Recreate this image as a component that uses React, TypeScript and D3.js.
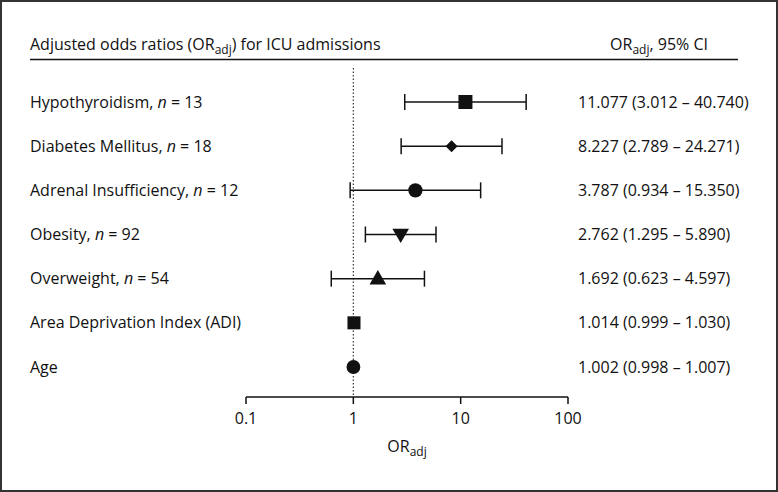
import React from "react";
import * as d3 from "d3";

const labels = [
  { name: "Hypothyroidism", n: "13" },
  { name: "Diabetes Mellitus", n: "18" },
  { name: "Adrenal Insufficiency", n: "12" },
  { name: "Obesity", n: "92" },
  { name: "Overweight", n: "54" },
  { name: "Area Deprivation Index (ADI)", n: null },
  { name: "Age", n: null },
];
const orValues = [11.077, 8.227, 3.787, 2.762, 1.692, 1.014, 1.002];
const ciLower = [3.012, 2.789, 0.934, 1.295, 0.623, 0.999, 0.998];
const ciUpper = [40.74, 24.271, 15.35, 5.89, 4.597, 1.03, 1.007];
const ciText = [
  "11.077 (3.012 \u2013 40.740)",
  "8.227 (2.789 \u2013 24.271)",
  "3.787 (0.934 \u2013 15.350)",
  "2.762 (1.295 \u2013 5.890)",
  "1.692 (0.623 \u2013 4.597)",
  "1.014 (0.999 \u2013 1.030)",
  "1.002 (0.998 \u2013 1.007)",
];
const markerTypes = ["square", "diamond", "circle", "triangleDown", "triangleUp", "square", "circle"];
const markerSizes = [196, 72, 160, 120, 120, 170, 150];
const tickValues = [0.1, 1, 10, 100];

const W = 778;
const H = 492;
const FONT = "'Open Sans', 'Noto Sans', sans-serif";
const INK = "#111";

export default function App() {
  const x = d3.scaleLog().domain([0.1, 100]).range([246, 568]);
  const y = d3.scalePoint<number>().domain(d3.range(labels.length)).range([102, 367]);
  const axisY = 397;
  const fs = 16;
  const subFs = 12;

  const symbolPath = (type: string, size: number) => {
    let sym: d3.SymbolType = d3.symbolSquare;
    if (type === "circle") sym = d3.symbolCircle;
    else if (type === "triangleDown" || type === "triangleUp") sym = d3.symbolTriangle;
    return d3.symbol().type(sym).size(size)() as string;
  };

  return (
    <svg
      width={W}
      height={H}
      style={{ position: "absolute", left: 0, top: 0, background: "#fff" }}
      fontFamily={FONT}
    >
      <rect x={1} y={1} width={W - 2} height={H - 2} fill="#fff" stroke="#333" strokeWidth={2} />

      {/* header */}
      <text x={30} y={50} fontSize={fs} fill={INK}>
        <tspan>Adjusted odds ratios (OR</tspan>
        <tspan fontSize={subFs} dy={4}>adj</tspan>
        <tspan dy={-4}>) for ICU admissions</tspan>
      </text>
      <text x={708} y={50} fontSize={fs} fill={INK} textAnchor="end">
        <tspan>OR</tspan>
        <tspan fontSize={subFs} dy={4}>adj</tspan>
        <tspan dy={-4}>, 95% CI</tspan>
      </text>
      <line x1={30} x2={738} y1={59.5} y2={59.5} stroke={INK} strokeWidth={1.6} />

      {/* reference line */}
      <line
        x1={x(1)}
        x2={x(1)}
        y1={68}
        y2={axisY}
        stroke="#333"
        strokeWidth={1.2}
        strokeDasharray="1.5,2"
      />

      {/* rows */}
      {labels.map((lab, i) => {
        const cy = y(i) as number;
        const hasCI = i < 5;
        const t = markerTypes[i];
        const rot = t === "triangleDown" ? 180 : t === "diamond" ? 45 : 0;
        const dyOff = t === "triangleDown" ? -1 : t === "triangleUp" ? 1 : 0;
        return (
          <g key={i}>
            <text x={30} y={cy + 5.5} fontSize={fs} fill={INK}>
              {lab.n ? (
                <>
                  <tspan>{lab.name}, </tspan>
                  <tspan fontStyle="italic">n</tspan>
                  <tspan> = {lab.n}</tspan>
                </>
              ) : (
                lab.name
              )}
            </text>
            {hasCI && (
              <g stroke={INK} strokeWidth={1.5}>
                <line x1={x(ciLower[i])} x2={x(ciUpper[i])} y1={cy} y2={cy} />
                <line x1={x(ciLower[i])} x2={x(ciLower[i])} y1={cy - 8} y2={cy + 8} />
                <line x1={x(ciUpper[i])} x2={x(ciUpper[i])} y1={cy - 8} y2={cy + 8} />
              </g>
            )}
            <path
              d={symbolPath(t, markerSizes[i])}
              transform={`translate(${x(orValues[i])},${cy + dyOff}) rotate(${rot})`}
              fill={INK}
            />
            <text x={578} y={cy + 5.5} fontSize={fs} fill={INK}>
              {ciText[i]}
            </text>
          </g>
        );
      })}

      {/* axis */}
      <line x1={x(0.1)} x2={x(100)} y1={axisY} y2={axisY} stroke={INK} strokeWidth={1.6} />
      {tickValues.map((v) => (
        <g key={v}>
          <line x1={x(v)} x2={x(v)} y1={axisY} y2={axisY + 7} stroke={INK} strokeWidth={1.5} />
          <text x={x(v)} y={axisY + 27} fontSize={fs} fill={INK} textAnchor="middle">
            {String(v)}
          </text>
        </g>
      ))}
      <text x={(x(0.1) + x(100)) / 2} y={axisY + 55} fontSize={fs} fill={INK} textAnchor="middle">
        <tspan>OR</tspan>
        <tspan fontSize={subFs} dy={4}>adj</tspan>
      </text>
    </svg>
  );
}
